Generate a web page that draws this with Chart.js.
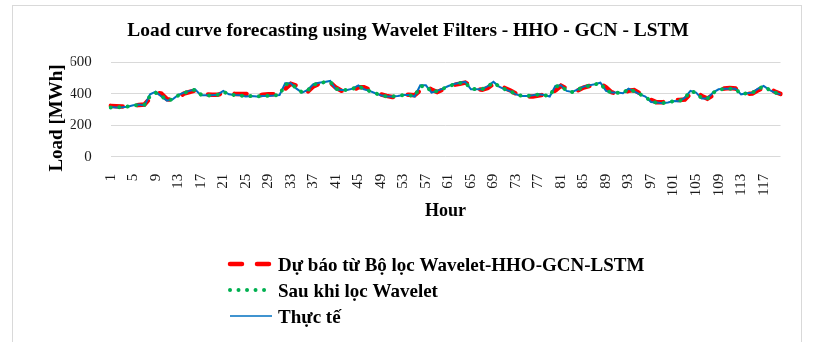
<!DOCTYPE html>
<html>
<head>
<meta charset="utf-8">
<script src="https://cdn.jsdelivr.net/npm/chart.js@4/dist/chart.umd.min.js"></script>
<style>
  html, body { margin: 0; padding: 0; background: #fff; }
  canvas { display: block; }
</style>
</head>
<body>
<canvas id="chart" width="829" height="342"></canvas>
<script>
// Categories (hours) and series values
const hours = [
  1, 2, 3, 4, 5, 6, 7, 8, 9, 10, 11, 12, 13, 14, 15, 16, 17, 18, 19, 20,
  21, 22, 23, 24, 25, 26, 27, 28, 29, 30, 31, 32, 33, 34, 35, 36, 37, 38, 39, 40,
  41, 42, 43, 44, 45, 46, 47, 48, 49, 50, 51, 52, 53, 54, 55, 56, 57, 58, 59, 60,
  61, 62, 63, 64, 65, 66, 67, 68, 69, 70, 71, 72, 73, 74, 75, 76, 77, 78, 79, 80,
  81, 82, 83, 84, 85, 86, 87, 88, 89, 90, 91, 92, 93, 94, 95, 96, 97, 98, 99, 100,
  101, 102, 103, 104, 105, 106, 107, 108, 109, 110, 111, 112, 113, 114, 115, 116, 117, 118, 119, 120
];

const forecast = [
  322, 320, 318, 316, 322, 328, 330, 370, 405, 400, 365, 358, 375, 400, 410, 420, 410, 395, 392, 392,
  405, 405, 398, 398, 398, 390, 388, 392, 395, 395, 392, 430, 462, 450, 415, 412, 445, 462, 468, 470,
  438, 418, 418, 420, 440, 440, 425, 410, 395, 385, 378, 382, 390, 393, 390, 420, 450, 425, 410, 425,
  440, 455, 462, 470, 450, 428, 425, 435, 462, 458, 435, 420, 400, 388, 380, 382, 388, 392, 388, 420,
  450, 432, 412, 420, 438, 448, 455, 462, 440, 408, 400, 400, 418, 422, 402, 388, 360, 345, 345, 350,
  360, 360, 362, 400, 412, 385, 368, 390, 420, 432, 435, 432, 405, 398, 400, 420, 440, 435, 412, 398
];

const filtered = [
  312, 313, 314, 318, 325, 328, 330, 385, 405, 385, 358, 362, 388, 403, 415, 425, 395, 388, 388, 392,
  410, 398, 390, 388, 383, 384, 382, 384, 386, 388, 392, 458, 462, 435, 408, 420, 455, 466, 472, 475,
  430, 423, 422, 430, 448, 428, 416, 402, 390, 382, 382, 385, 390, 390, 384, 445, 450, 410, 416, 430,
  446, 458, 466, 470, 430, 428, 428, 445, 470, 445, 428, 415, 396, 386, 385, 388, 394, 390, 384, 445,
  450, 418, 410, 425, 442, 450, 458, 466, 420, 406, 405, 403, 428, 415, 396, 382, 348, 343, 340, 343,
  352, 352, 372, 414, 406, 370, 368, 404, 425, 430, 430, 430, 397, 401, 405, 428, 446, 424, 407, 396
];

const actual = [
  315, 311, 313, 317, 326, 330, 325, 395, 412, 381, 355, 364, 391, 406, 417, 427, 389, 389, 389, 393,
  417, 395, 391, 389, 381, 385, 381, 385, 385, 387, 391, 466, 465, 431, 406, 423, 459, 469, 474, 480,
  427, 423, 423, 431, 452, 427, 417, 402, 389, 381, 381, 385, 391, 391, 381, 452, 452, 406, 417, 431,
  448, 461, 469, 474, 427, 427, 427, 448, 474, 444, 427, 414, 395, 385, 385, 389, 395, 391, 381, 448,
  452, 417, 410, 427, 444, 452, 459, 469, 417, 406, 406, 402, 431, 414, 395, 381, 347, 343, 338, 343,
  353, 351, 374, 417, 406, 368, 368, 406, 427, 431, 431, 431, 395, 402, 406, 431, 448, 423, 406, 395
];

const seriesNames = ['Dự báo từ Bộ lọc Wavelet-HHO-GCN-LSTM', 'Sau khi lọc Wavelet', 'Thực tế'];
const chartTitle = 'Load curve forecasting using Wavelet Filters - HHO - GCN - LSTM';
const yTitle = 'Load [MWh]';
const xTitle = 'Hour';

const FONT = "'Liberation Serif', 'Times New Roman', serif";
const ctx = document.getElementById('chart').getContext('2d');

// Frame, titles and the vertical legend are drawn by hand
const decorPlugin = {
  id: 'decor',
  beforeDraw(chart) {
    const c = chart.ctx;
    c.save();
    c.fillStyle = '#ffffff';
    c.fillRect(0, 0, chart.width, chart.height);
    c.strokeStyle = '#d9d9d9';
    c.lineWidth = 1;
    c.strokeRect(12.5, 5.5, 789, 400);
    c.restore();
  },
  afterDraw(chart) {
    const c = chart.ctx;
    const area = chart.chartArea;
    c.save();
    c.fillStyle = '#000000';
    c.textBaseline = 'alphabetic';

    // chart title
    c.font = 'bold 19.4px ' + FONT;
    c.textAlign = 'center';
    c.fillText(chartTitle, 408, 36);

    // x axis title
    c.font = 'bold 18px ' + FONT;
    c.fillText(xTitle, (area.left + area.right) / 2, 216);

    // y axis title
    c.save();
    c.translate(62, 118);
    c.rotate(-Math.PI / 2);
    c.font = 'bold 19px ' + FONT;
    c.fillText(yTitle, 0, 0);
    c.restore();

    // legend, one item per row
    c.textAlign = 'left';
    c.font = 'bold 19px ' + FONT;
    chart.data.datasets.forEach((ds, i) => {
      const y = 264 + i * 26;
      c.save();
      c.strokeStyle = ds.borderColor;
      c.lineWidth = ds.legendWidth;
      c.lineCap = ds.borderCapStyle || 'butt';
      c.setLineDash(ds.borderDash || []);
      c.beginPath();
      c.moveTo(230, y);
      c.lineTo(272, y);
      c.stroke();
      c.restore();
      c.fillText(ds.label, 278, y + 6.5);
    });
    c.restore();
  }
};

const chart = new Chart(ctx, {
  type: 'line',
  data: {
    labels: hours,
    datasets: [
      {
        label: seriesNames[0],
        data: forecast,
        borderColor: '#ff0000',
        borderWidth: 4.5,
        legendWidth: 4.5,
        borderDash: [12, 15],
        borderCapStyle: 'round',
        order: 3
      },
      {
        label: seriesNames[1],
        data: filtered,
        borderColor: '#00b050',
        borderWidth: 4,
        legendWidth: 4,
        borderDash: [0.01, 8.5],
        borderCapStyle: 'round',
        order: 1
      },
      {
        label: seriesNames[2],
        data: actual,
        borderColor: '#0070c0',
        borderWidth: 2,
        legendWidth: 1.5,
        order: 2
      }
    ]
  },
  options: {
    responsive: false,
    animation: false,
    devicePixelRatio: 1,
    elements: {
      point: { radius: 0 },
      line: { tension: 0, fill: false }
    },
    layout: {
      padding: { left: 70.7, right: 48.5, top: 62, bottom: 145.3 }
    },
    plugins: {
      legend: { display: false },
      title: { display: false },
      tooltip: { enabled: false }
    },
    scales: {
      x: {
        type: 'category',
        offset: false,
        grid: { display: false },
        border: { display: false },
        ticks: {
          autoSkip: false,
          minRotation: 90,
          maxRotation: 90,
          padding: 9,
          color: '#1a1a1a',
          font: { family: FONT, size: 15 },
          callback: (val, idx) => (idx % 4 === 0 ? String(hours[idx]) : '')
        },
        afterFit: (s) => { s.height = 40; }
      },
      y: {
        min: 0,
        max: 600,
        grid: { color: '#d9d9d9', lineWidth: 1, drawTicks: false },
        border: { display: false },
        ticks: {
          stepSize: 200,
          padding: 19,
          color: '#1a1a1a',
          font: { family: FONT, size: 15 }
        },
        afterFit: (s) => { s.width = 40; }
      }
    }
  },
  plugins: [decorPlugin]
});
</script>
</body>
</html>
